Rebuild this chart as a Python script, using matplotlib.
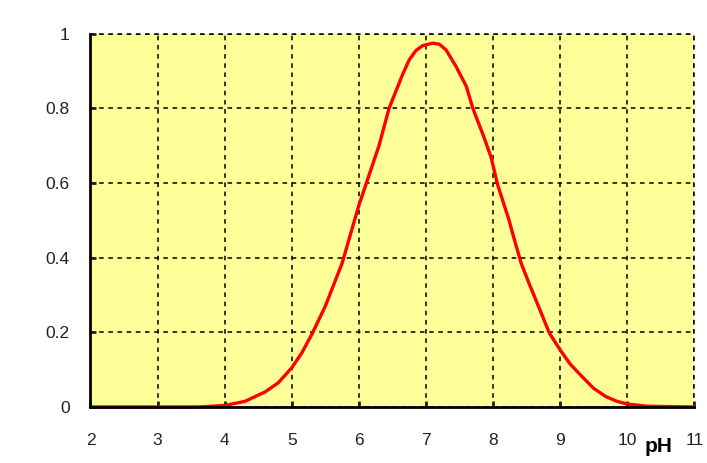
import matplotlib
matplotlib.use("Agg")
from matplotlib import pyplot as plt

# fraction vs pH
ph = [2, 3, 3.6, 4.0, 4.3, 4.6, 4.8, 5.0, 5.15, 5.3, 5.5, 5.75, 6.0, 6.15, 6.3,
      6.45, 6.55, 6.65, 6.75, 6.85, 6.95, 7.1, 7.2, 7.3, 7.45, 7.6, 7.7, 7.85,
      7.97, 8.07, 8.24, 8.3, 8.42, 8.54, 8.7, 8.84, 9.0, 9.15, 9.33, 9.5,
      9.68, 9.85, 10.0, 10.3, 11]
frac = [0, 0, 0, 0.004, 0.015, 0.04, 0.065, 0.105, 0.145, 0.195, 0.27, 0.385,
        0.54, 0.62, 0.70, 0.80, 0.845, 0.89, 0.93, 0.955, 0.968, 0.975, 0.972,
        0.957, 0.912, 0.86, 0.80, 0.73, 0.67, 0.595, 0.50, 0.46, 0.385, 0.33,
        0.26, 0.198, 0.153, 0.115, 0.081, 0.05, 0.028, 0.015, 0.008, 0.002, 0]
xticks = [2, 3, 4, 5, 6, 7, 8, 9, 10, 11]
yticks = [0, 0.2, 0.4, 0.6, 0.8, 1]
ylabels = ['0', '0.2', '0.4', '0.6', '0.8', '1']

plt.rcParams['font.family'] = ['Liberation Sans', 'DejaVu Sans']

fig = plt.figure(figsize=(7.07, 4.63), dpi=100)
ax = fig.add_axes([0.128, 0.121, 0.854, 0.806])
ax.set_facecolor('#ffff99')

ax.plot(ph, frac, color='#ff0000', linewidth=2.4, solid_joinstyle='round',
        solid_capstyle='round', zorder=3, clip_on=False)

ax.set_xlim(2, 11)
ax.set_ylim(0, 1)
ax.set_xticks(xticks)
ax.set_yticks(yticks)
ax.set_yticklabels(ylabels)
ax.grid(True, color='black', linestyle=(0, (3, 3)), linewidth=1.1)
ax.set_axisbelow(False)

for s in ['top', 'right']:
    ax.spines[s].set_visible(False)
for s in ['left', 'bottom']:
    ax.spines[s].set_linewidth(2)
    ax.spines[s].set_zorder(4)

ax.tick_params(direction='in', length=4, width=2, labelsize=12.5, colors='#222222')
ax.tick_params(axis='y', pad=15)
ax.tick_params(axis='x', pad=19)

# top and right grid borders
ax.axhline(1, color='black', linestyle=(0, (3, 3)), linewidth=1.1, clip_on=False)
ax.axvline(11, color='black', linestyle=(0, (3, 3)), linewidth=1.1, clip_on=False)

ax.text(10.46, -0.105, 'pH', fontsize=15, fontweight='bold', ha='center', va='center',
        transform=ax.get_xaxis_transform())

plt.savefig('out.png', dpi=100)
